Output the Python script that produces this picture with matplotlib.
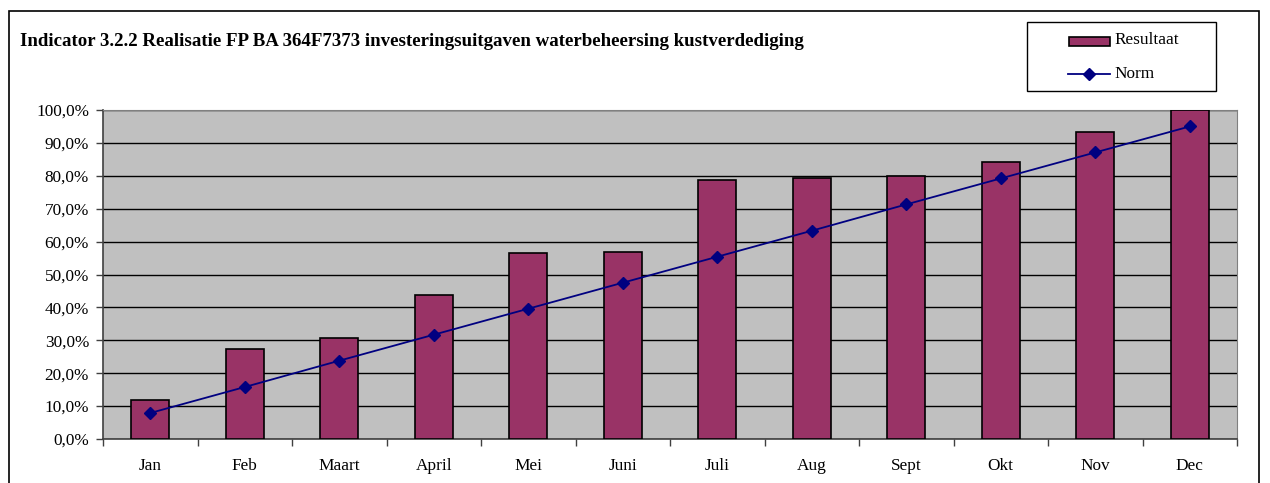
import numpy as np
import matplotlib
matplotlib.use("Agg")
import matplotlib.pyplot as plt
from matplotlib.patches import Rectangle
from matplotlib.lines import Line2D
from matplotlib.ticker import FuncFormatter

plt.rcParams['font.family'] = ['Liberation Serif', 'DejaVu Serif']

maanden = ['Jan', 'Feb', 'Maart', 'April', 'Mei', 'Juni', 'Juli', 'Aug', 'Sept', 'Okt', 'Nov', 'Dec']
resultaat = [11.8, 27.4, 30.7, 43.8, 56.5, 56.8, 78.7, 79.3, 80.0, 84.2, 93.3, 100.0]
norm = [7.9, 15.8, 23.8, 31.7, 39.6, 47.5, 55.4, 63.3, 71.3, 79.2, 87.1, 95.0]

W, H = 1270, 483
fig = plt.figure(figsize=(W / 100, H / 100), dpi=100)

def fx(px):
    return px / W

def fy(py):
    return 1 - py / H

# outer chart frame
fig.patches.append(Rectangle((fx(9), -0.05), fx(1259 - 9), 1.05 - 11 / H,
                             transform=fig.transFigure, fill=False,
                             edgecolor='black', linewidth=1.2))

ax = fig.add_axes([fx(103), fy(439), fx(1237 - 103), (439 - 110) / H])
ax.set_facecolor('#C0C0C0')

x = np.arange(len(maanden))
ax.bar(x, resultaat, width=0.4, color='#993366', edgecolor='black', linewidth=1.2, zorder=3)
ax.plot(x, norm, color='#000080', linewidth=1.3, marker='D', markersize=6.5,
        markerfacecolor='#000080', markeredgecolor='#000080', zorder=4)

ax.set_xlim(-0.5, len(maanden) - 0.5)
ax.set_ylim(0, 100)
ax.set_yticks(np.arange(0, 101, 10))
ax.yaxis.set_major_formatter(FuncFormatter(lambda v, p: f"{v:.1f}%".replace('.', ',')))
ax.grid(axis='y', color='black', linewidth=1.0, zorder=1)

ax.set_xticks(x)
ax.set_xticklabels(maanden)
ax.set_xticks(np.arange(-0.5, len(maanden), 1), minor=True)
ax.tick_params(axis='x', which='major', length=0, pad=14, labelsize=12.4)
ax.tick_params(axis='x', which='minor', length=5, direction='out', width=1, color='#404040')
ax.tick_params(axis='y', length=5, direction='out', width=1, color='#404040', labelsize=12.4, pad=5)

for s in ['top', 'right']:
    ax.spines[s].set_color('#808080')
for s in ['left', 'bottom']:
    ax.spines[s].set_color('#404040')
    ax.spines[s].set_linewidth(1.2)

fig.text(fx(20), fy(42), 'Indicator 3.2.2 Realisatie FP BA 364F7373 investeringsuitgaven waterbeheersing kustverdediging',
         fontsize=13.6, fontweight='bold', va='center', ha='left')

# legend box drawn by hand to match the original placement
fig.patches.append(Rectangle((fx(1027), fy(91)), fx(1216 - 1027), (91 - 22) / H,
                             transform=fig.transFigure, facecolor='white',
                             edgecolor='black', linewidth=1.0))
fig.patches.append(Rectangle((fx(1069), fy(46)), fx(1110 - 1069), 9 / H,
                             transform=fig.transFigure, facecolor='#993366',
                             edgecolor='black', linewidth=1.2))
fig.lines.append(Line2D([fx(1068), fx(1110)], [fy(74), fy(74)], transform=fig.transFigure,
                        color='#000080', linewidth=1.3))
fig.lines.append(Line2D([fx(1089)], [fy(74)], transform=fig.transFigure, marker='D',
                        markersize=6.5, color='#000080'))
fig.text(fx(1114), fy(40), 'Resultaat', fontsize=12.4, va='center', ha='left')
fig.text(fx(1114), fy(74), 'Norm', fontsize=12.4, va='center', ha='left')

fig.savefig('out.png', dpi=100)
